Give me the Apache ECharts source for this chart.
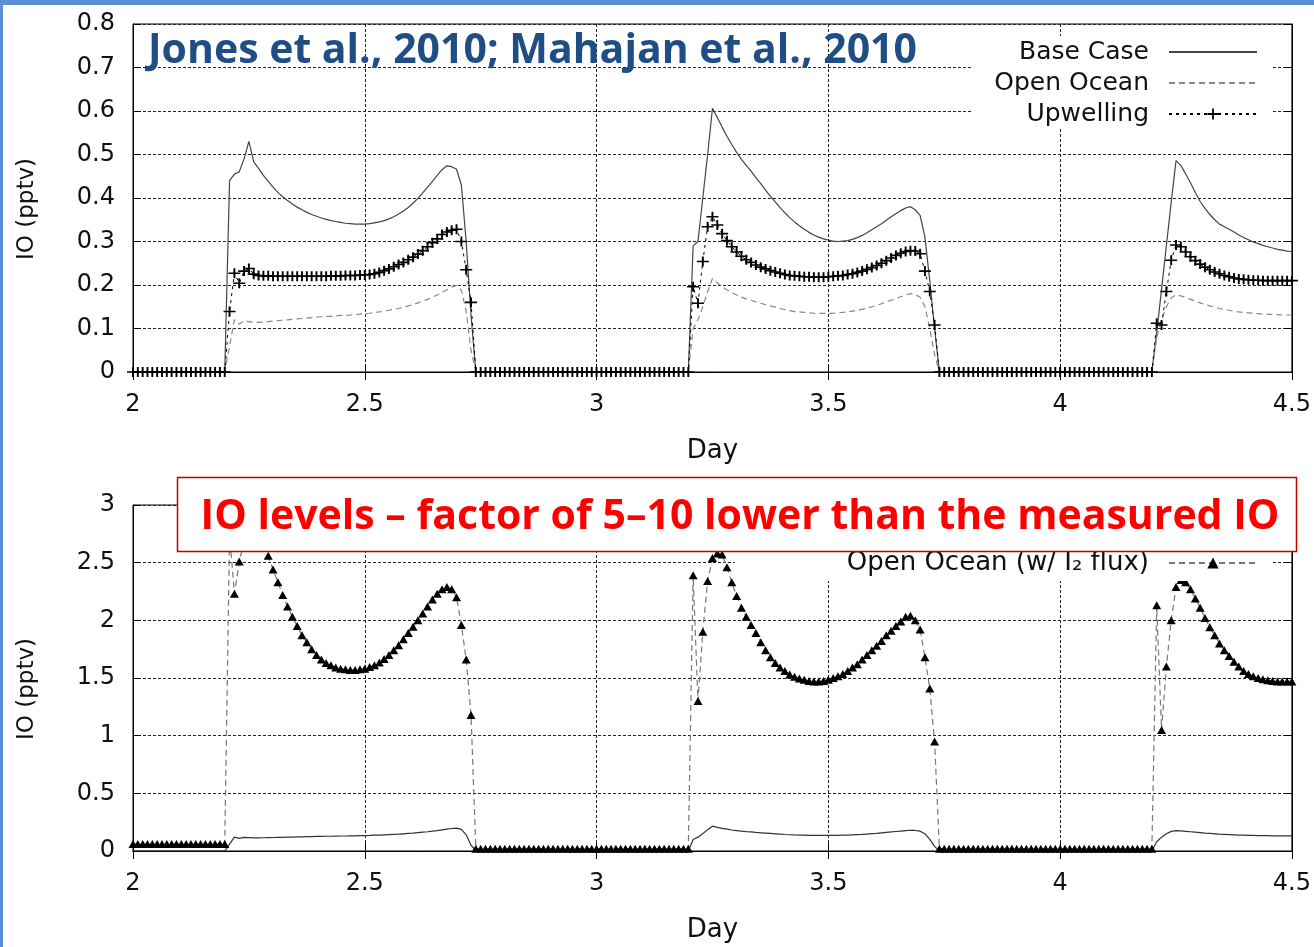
<!DOCTYPE html>
<html><head><meta charset="utf-8">
<script src="https://cdn.jsdelivr.net/npm/echarts@6/dist/echarts.min.js"></script>
<style>html,body{margin:0;padding:0;background:#fff}#chart{width:1314px;height:947px}</style>
</head><body><div id="chart"></div>
<script>
// ---- sampling grid (model output every 15 minutes) ----
const dayStart = 2;
const stepDays = 1 / 96;

// ---- tick labels ----
const xTickLabels = ['2', '2.5', '3', '3.5', '4', '4.5'];
const topYTickLabels = ['0', '0.1', '0.2', '0.3', '0.4', '0.5', '0.6', '0.7', '0.8'];
const bottomYTickLabels = ['0', '0.5', '1', '1.5', '2', '2.5', '3'];

// ---- night segments (read as zero for top panel) ----
const nightStart = [0,0,0,0,0,0,0,0,0,0, 0,0,0,0,0,0,0,0,0,0];
const nightMid = [0,0,0,0,0,0,0,0,0,0,0, 0,0,0,0,0,0,0,0,0,0,0,
                  0,0,0,0,0,0,0,0,0,0,0, 0,0,0,0,0,0,0,0,0,0,0];

// ---- Base Case (top, solid) ----
const baseCaseDay1 = [0.44,0.455,0.46,0.49,0.53,0.483,0.468,0.452,0.438,0.425,
  0.413,0.403,0.394,0.386,0.379,0.373,0.367,0.362,0.358,0.354,
  0.351,0.348,0.346,0.344,0.342,0.341,0.340,0.340,0.340,0.341,
  0.343,0.345,0.348,0.352,0.357,0.363,0.370,0.378,0.388,0.399,
  0.412,0.425,0.438,0.452,0.465,0.474,0.472,0.466,0.43,0.30,
  0.13,0.0];
const baseCaseDay2 = [0.29,0.30,0.40,0.50,0.606,0.585,0.563,0.542,0.523,0.505,
  0.489,0.475,0.462,0.447,0.433,0.418,0.404,0.391,0.378,0.366,
  0.355,0.345,0.336,0.328,0.321,0.315,0.310,0.306,0.303,0.301,
  0.300,0.301,0.302,0.305,0.309,0.314,0.320,0.327,0.334,0.341,
  0.349,0.357,0.364,0.371,0.377,0.38,0.373,0.36,0.31,0.21,
  0.10,0.0];
const baseCaseDay3 = [0.09,0.19,0.29,0.39,0.486,0.475,0.455,0.435,0.412,0.392,
  0.376,0.362,0.35,0.34,0.334,0.328,0.322,0.315,0.309,0.304,
  0.299,0.295,0.291,0.288,0.285,0.282,0.28,0.278,0.277];

// ---- Open Ocean (top dashed; also solid line of bottom panel) ----
const openOceanDay1 = [0.06,0.12,0.11,0.118,0.116,0.114,0.114,0.115,0.116,0.117,
  0.118,0.119,0.12,0.121,0.122,0.123,0.124,0.125,0.126,0.127,
  0.128,0.128,0.129,0.13,0.13,0.131,0.132,0.133,0.134,0.135,
  0.137,0.138,0.14,0.142,0.144,0.146,0.149,0.152,0.155,0.159,
  0.163,0.167,0.172,0.177,0.183,0.189,0.195,0.199,0.188,0.14,
  0.05,0.0];
const openOceanDay2 = [0.10,0.12,0.15,0.185,0.215,0.205,0.196,0.189,0.182,0.177,
  0.172,0.168,0.165,0.161,0.158,0.155,0.152,0.149,0.146,0.143,
  0.141,0.139,0.138,0.137,0.136,0.135,0.135,0.135,0.135,0.135,
  0.136,0.137,0.138,0.14,0.142,0.144,0.147,0.150,0.153,0.157,
  0.161,0.165,0.169,0.173,0.177,0.18,0.178,0.172,0.15,0.10,
  0.04,0.0];
const openOceanDay3 = [0.08,0.12,0.15,0.17,0.177,0.175,0.171,0.167,0.163,0.159,
  0.155,0.152,0.149,0.146,0.144,0.142,0.14,0.138,0.137,0.136,
  0.135,0.134,0.133,0.133,0.132,0.132,0.131,0.131,0.131];

// ---- Upwelling (top, dotted with +) ----
const upwellingDay1 = [0.139,0.227,0.204,0.232,0.238,0.225,0.222,0.221,0.221,0.22,
  0.22,0.22,0.22,0.22,0.22,0.22,0.22,0.22,0.22,0.22,
  0.22,0.221,0.221,0.221,0.222,0.222,0.222,0.223,0.223,0.224,
  0.226,0.229,0.233,0.237,0.242,0.247,0.252,0.258,0.264,0.271,
  0.279,0.288,0.297,0.306,0.316,0.322,0.326,0.328,0.30,0.235,
  0.16,0.0];
const upwellingDay2 = [0.196,0.158,0.254,0.334,0.357,0.338,0.318,0.302,0.288,0.276,
  0.266,0.258,0.252,0.246,0.241,0.237,0.233,0.23,0.227,0.224,
  0.222,0.221,0.22,0.219,0.219,0.218,0.218,0.218,0.219,0.22,
  0.221,0.222,0.224,0.226,0.229,0.232,0.236,0.240,0.245,0.25,
  0.256,0.262,0.268,0.273,0.277,0.279,0.278,0.272,0.232,0.185,
  0.108,0.0];
const upwellingDay3 = [0.112,0.108,0.185,0.257,0.292,0.288,0.276,0.265,0.256,0.248,
  0.241,0.235,0.23,0.226,0.222,0.219,0.216,0.214,0.213,0.212,
  0.211,0.211,0.21,0.21,0.21,0.21,0.21,0.21,0.21];

// ---- Open Ocean (w/ I2 flux) (bottom, dashed with triangles) ----
const i2NightStart = [0.06,0.06,0.06,0.06,0.06,0.06,0.06,0.06,0.06,0.06,
  0.06,0.06,0.06,0.06,0.06,0.06,0.06,0.06,0.06,0.06];
const i2NightMid = [0.02,0.02,0.02,0.02,0.02,0.02,0.02,0.02,0.02,0.02,0.02,
  0.02,0.02,0.02,0.02,0.02,0.02,0.02,0.02,0.02,0.02,0.02,
  0.02,0.02,0.02,0.02,0.02,0.02,0.02,0.02,0.02,0.02,0.02,
  0.02,0.02,0.02,0.02,0.02,0.02,0.02,0.02,0.02,0.02,0.02];
const i2Day1 = [2.75,2.23,2.51,2.68,2.76,2.78,2.75,2.67,2.56,2.44,
  2.33,2.22,2.12,2.03,1.95,1.87,1.81,1.75,1.70,1.66,
  1.63,1.61,1.59,1.58,1.575,1.57,1.57,1.575,1.58,1.595,
  1.61,1.635,1.665,1.70,1.74,1.785,1.835,1.89,1.945,2.00,
  2.06,2.12,2.18,2.23,2.27,2.29,2.27,2.20,1.96,1.66,
  1.18,0.02];
const i2Day2 = [2.39,1.30,1.90,2.34,2.54,2.58,2.57,2.46,2.33,2.21,
  2.11,2.03,1.96,1.89,1.81,1.74,1.68,1.63,1.59,1.56,
  1.53,1.51,1.495,1.485,1.475,1.47,1.47,1.475,1.485,1.50,
  1.515,1.535,1.56,1.59,1.62,1.66,1.70,1.74,1.78,1.82,
  1.87,1.91,1.95,1.99,2.03,2.04,2.0,1.92,1.68,1.41,
  0.95,0.02];
const i2Day3 = [2.13,1.05,1.60,2.0,2.29,2.35,2.33,2.27,2.19,2.11,
  2.02,1.94,1.87,1.80,1.74,1.69,1.64,1.60,1.56,1.535,
  1.515,1.50,1.49,1.48,1.475,1.47,1.47,1.47,1.47];

function assemble(parts) {
  const vals = [].concat(...parts);
  return vals.map((v, i) => [dayStart + i * stepDays, v]);
}
const baseCase = assemble([nightStart, baseCaseDay1, nightMid, baseCaseDay2, nightMid, baseCaseDay3]);
const openOcean = assemble([nightStart, openOceanDay1, nightMid, openOceanDay2, nightMid, openOceanDay3]);
const upwelling = assemble([nightStart, upwellingDay1, nightMid, upwellingDay2, nightMid, upwellingDay3]);
const openOceanI2 = assemble([i2NightStart, i2Day1, i2NightMid, i2Day2, i2NightMid, i2Day3]);

const FONT = 'DejaVu Sans';
const TXT = '#111';
const gridLine = { show: true, lineStyle: { color: '#222', width: 1, type: [3, 2] } };
const tick = { show: true, inside: true, length: 8, lineStyle: { color: '#000', width: 1 } };
const axLine = { show: true, lineStyle: { color: '#000', width: 1 } };

function xMain(gi) {
  return { gridIndex: gi, type: 'value', min: 2, max: 4.5, interval: 0.5, position: 'bottom',
    axisLine: axLine, axisTick: tick, splitLine: gridLine,
    axisLabel: { color: TXT, fontFamily: FONT, fontSize: 24, margin: 21,
      formatter: v => xTickLabels[Math.round((v - 2) / 0.5)] },
    name: 'Day', nameLocation: 'middle', nameGap: 66,
    nameTextStyle: { color: TXT, fontFamily: FONT, fontSize: 26 } };
}
function xMirror(gi) {
  return { gridIndex: gi, type: 'value', min: 2, max: 4.5, interval: 0.5, position: 'top',
    axisLine: axLine, axisTick: tick, splitLine: { show: false }, axisLabel: { show: false } };
}
function yMain(gi, max, interval, labels) {
  return { gridIndex: gi, type: 'value', min: 0, max: max, interval: interval, position: 'left',
    axisLine: axLine, axisTick: tick, splitLine: gridLine,
    axisLabel: { color: TXT, fontFamily: FONT, fontSize: 24, margin: 18,
      formatter: v => labels[Math.round(v / interval)] },
    name: 'IO (pptv)', nameLocation: 'middle', nameGap: 94,
    nameTextStyle: { color: TXT, fontFamily: FONT, fontSize: 23, padding: [0, 22, 0, 0] } };
}
function yMirror(gi, max, interval) {
  return { gridIndex: gi, type: 'value', min: 0, max: max, interval: interval, position: 'right',
    axisLine: axLine, axisTick: tick, splitLine: { show: false }, axisLabel: { show: false } };
}

const plusPath = 'path://M0,4.2H10V5.8H0Z M4.2,0H5.8V10H4.2Z';
const noMarker = { opacity: 0, color: 'rgba(0,0,0,0)', borderWidth: 0 };

const option = {
  animation: false,
  backgroundColor: '#fff',
  grid: [
    { left: 133, top: 24, width: 1160, height: 348, show: true, borderColor: '#000', borderWidth: 1, backgroundColor: '#fff' },
    { left: 133, top: 505, width: 1160, height: 346, show: true, borderColor: '#000', borderWidth: 1, backgroundColor: '#fff' }
  ],
  xAxis: [xMain(0), xMirror(0), xMain(1), xMirror(1)],
  yAxis: [yMain(0, 0.8, 0.1, topYTickLabels), yMirror(0, 0.8, 0.1),
          yMain(1, 3, 0.5, bottomYTickLabels), yMirror(1, 3, 0.5)],
  legend: [
    { data: [{ name: 'Base Case', itemStyle: noMarker }, { name: 'Open Ocean', itemStyle: noMarker }, 'Upwelling'],
      orient: 'vertical', align: 'right',
      right: 41, top: 36, itemWidth: 88, itemHeight: 14, itemGap: 1,
      backgroundColor: '#fff', padding: [1, 15, 0, 22], selectedMode: false,
      textStyle: { fontFamily: FONT, fontSize: 25, color: TXT, lineHeight: 30, padding: [0, 15, 0, 0] } },
    { data: ['Open Ocean (w/ I₂ flux)'], orient: 'vertical', align: 'right',
      right: 41, top: 541, itemWidth: 88, itemHeight: 14,
      backgroundColor: '#fff', padding: [7, 15, 3, 112], selectedMode: false,
      textStyle: { fontFamily: FONT, fontSize: 26, color: TXT, lineHeight: 30, padding: [0, 15, 0, 0] } }
  ],
  series: [
    { name: 'Base Case', type: 'line', xAxisIndex: 0, yAxisIndex: 0, data: baseCase,
      symbol: 'none', lineStyle: { color: '#444', width: 1.2 }, itemStyle: { color: '#444' } },
    { name: 'Open Ocean', type: 'line', xAxisIndex: 0, yAxisIndex: 0, data: openOcean,
      symbol: 'none', lineStyle: { color: '#888', width: 1.2, type: [6, 4] }, itemStyle: { color: '#888' } },
    { name: 'Upwelling', type: 'line', xAxisIndex: 0, yAxisIndex: 0, data: upwelling, clip: false,
      symbol: plusPath, symbolSize: [12, 10], showAllSymbol: true,
      lineStyle: { color: '#000', width: 1, type: [3, 4] }, itemStyle: { color: '#000' } },
    { name: 'Open Ocean', type: 'line', xAxisIndex: 2, yAxisIndex: 2, data: openOcean,
      symbol: 'none', lineStyle: { color: '#333', width: 1.2 }, itemStyle: { color: '#333' } },
    { name: 'Open Ocean (w/ I₂ flux)', type: 'line', xAxisIndex: 2, yAxisIndex: 2, data: openOceanI2, clip: false,
      symbol: 'triangle', symbolSize: [9, 8], showAllSymbol: true,
      lineStyle: { color: '#777', width: 1.2, type: [6, 4] }, itemStyle: { color: '#000' } }
  ],
  graphic: [
    { type: 'rect', z: 100, shape: { x: 0, y: 0, width: 1314, height: 5 }, style: { fill: '#5b8fd6' } },
    { type: 'rect', z: 100, shape: { x: 0, y: 0, width: 3, height: 947 }, style: { fill: '#5b8fd6' } },
    { type: 'text', z: 100, x: 148, y: 51,
      style: { text: 'Jones et al., 2010; Mahajan et al., 2010', font: 'bold 41px "Open Sans"', fill: '#1f4e85',
        textVerticalAlign: 'middle', verticalAlign: 'middle' } },
    { type: 'rect', z: 100, shape: { x: 177.5, y: 477.5, width: 1119, height: 74 },
      style: { fill: '#fff', stroke: '#c00000', lineWidth: 1.5 } },
    { type: 'text', z: 101, x: 740, y: 517,
      style: { text: 'IO levels – factor of 5–10 lower than the measured IO', font: 'bold 41px "Open Sans"', fill: '#ff0000',
        textAlign: 'center', align: 'center', textVerticalAlign: 'middle', verticalAlign: 'middle' } }
  ]
};
const chart = echarts.init(document.getElementById('chart'), null, { renderer: 'canvas' });
chart.setOption(option);
</script></body></html>
